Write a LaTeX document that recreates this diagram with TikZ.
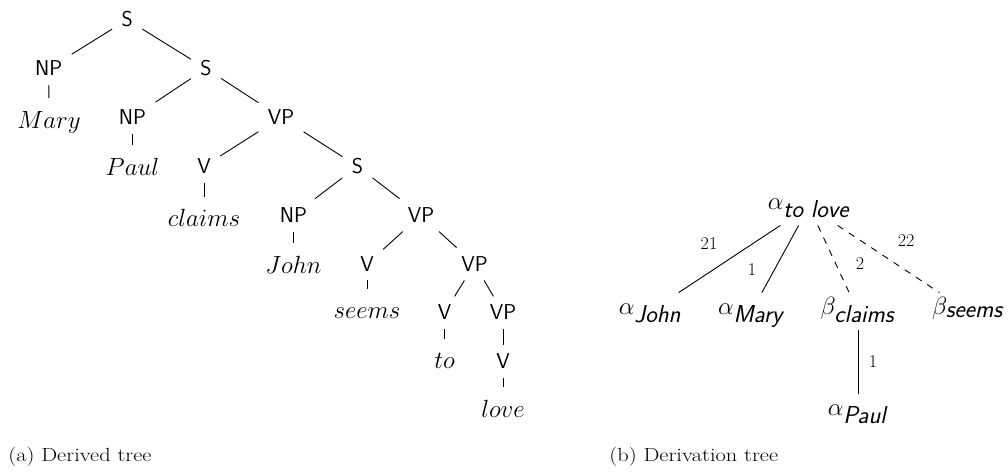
\documentclass[tikz,border=0pt]{standalone}
\usepackage{graphicx}
\begin{document}
\begin{tikzpicture}[x=1pt,y=-1pt,line width=0.9pt,
  cat/.style={font=\fontsize{21.5}{25}\selectfont\sffamily, text height=14pt, text depth=0pt, inner xsep=9pt, inner ysep=9pt, anchor=base},
  word/.style={font=\fontsize{24.5}{29}\selectfont, text height=17pt, text depth=6pt, inner xsep=4pt, inner ysep=12.5pt, anchor=base},
  der/.style={font=\fontsize{24.5}{29}\selectfont, text height=17pt, text depth=12pt, inner xsep=4pt, inner ysep=4pt, anchor=base},
  lbl/.style={font=\fontsize{18}{21}\selectfont, inner sep=0pt},
  captxt/.style={font=\fontsize{19}{23}\selectfont, inner sep=0pt, anchor=base west},
  dsh/.style={dash pattern=on 6.7pt off 6.7pt}]
\useasboundingbox (0,0) rectangle (1008,471);
% derived tree
\node[cat] (s0) at (127.2,26.7) {S};
\node[cat] (np1) at (48.7,75.6) {NP};
\node[word] (mary) at (49,128) {$Mary$};
\node[cat] (s1) at (206,75.6) {S};
\node[cat] (np2) at (132.5,124.4) {NP};
\node[word] (paul) at (132.5,175) {$Paul$};
\node[cat] (vp1) at (281,124.4) {VP};
\node[cat] (v1) at (204,173.3) {V};
\node[word] (claims) at (204,226.5) {$claims$};
\node[cat] (s2) at (357.5,173.3) {S};
\node[cat] (np3) at (293.5,222.1) {NP};
\node[word] (john) at (293.5,273) {$John$};
\node[cat] (vp2) at (421,222.1) {VP};
\node[cat] (v2) at (367,271) {V};
\node[word] (seems) at (367,318.5) {$seems$};
\node[cat] (vp3) at (474.5,271) {VP};
\node[cat] (v3) at (444.5,319.8) {V};
\node[word] (to) at (444.5,368.5) {$to$};
\node[cat] (vp4) at (503,319.8) {VP};
\node[cat] (v4) at (503,368.7) {V};
\node[word] (love) at (503,417) {$love$};
\draw (s0) -- (np1);
\draw (s0) -- (s1);
\draw (np1) -- (mary);
\draw (s1) -- (np2);
\draw (s1) -- (vp1);
\draw (np2) -- (paul);
\draw (vp1) -- (v1);
\draw (vp1) -- (s2);
\draw (v1) -- (claims);
\draw (s2) -- (np3);
\draw (s2) -- (vp2);
\draw (np3) -- (john);
\draw (vp2) -- (v2);
\draw (vp2) -- (vp3);
\draw (v2) -- (seems);
\draw (vp3) -- (v3);
\draw (vp3) -- (vp4);
\draw (v3) -- (to);
\draw (vp4) -- (v4);
\draw (v4) -- (love);
% derivation tree
\node[der] (r) at (809,209) {$\alpha_{\textsf{\textit{to love}}}$};
\node[der] (aj) at (650,314) {$\alpha_{\textsf{\textit{John}}}$};
\node[der] (am) at (751.5,314) {$\alpha_{\textsf{\textit{Mary}}}$};
\node[der] (bc) at (858,314) {$\beta_{\textsf{\textit{claims}}}$};
\node[der] (bs) at (968,314) {$\beta_{\textsf{\textit{seems}}}$};
\node[der] (ap) at (858,415) {$\alpha_{\textsf{\textit{Paul}}}$};
\draw (r) -- (aj) node[lbl] at (709,244) {21};
\draw (r) -- (am) node[lbl] at (752,270) {1};
\draw[dsh] (r) -- (bc) node[lbl] at (860,264) {2};
\draw[dsh] (r) -- (bs) node[lbl] at (906,241) {22};
\draw (bc) -- (ap) node[lbl] at (873,362) {1};
% captions
\node[captxt] (ca) at (8,461) {\scalebox{1.18}[1]{(a) Derived tree}};
\node[captxt] (cb) at (609,461) {\scalebox{1.18}[1]{(b) Derivation tree}};
\end{tikzpicture}
\end{document}
